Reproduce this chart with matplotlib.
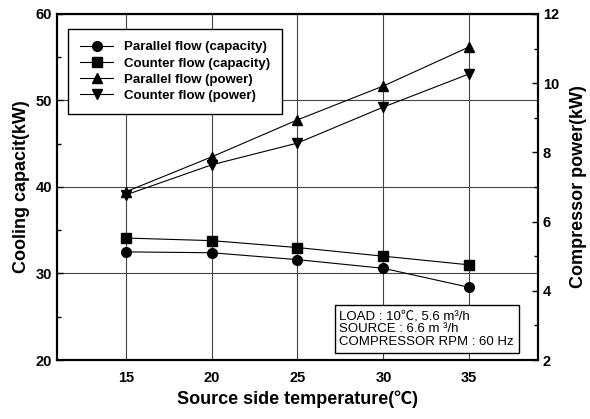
import numpy as np
import matplotlib.pyplot as plt
from matplotlib.ticker import MultipleLocator

plt.rcParams['font.family'] = ['Liberation Sans', 'DejaVu Sans']

# --- dane ---
temps = [15, 20, 25, 30, 35]
par_cap = [32.5, 32.4, 31.6, 30.6, 28.4]
cnt_cap = [34.1, 33.8, 33.0, 32.0, 31.0]
par_pow = [6.86, 7.87, 8.94, 9.92, 11.05]
cnt_pow = [6.77, 7.64, 8.27, 9.31, 10.27]

fig = plt.figure(figsize=(5.9, 4.19), dpi=100)
ax = fig.add_axes([57 / 590, 1 - 360 / 419, 481 / 590, 346 / 419])
ax2 = ax.twinx()

kw = dict(color='black', lw=0.8, ms=7)
l1, = ax.plot(temps, par_cap, marker='o', label='Parallel flow (capacity)', **kw)
l2, = ax.plot(temps, cnt_cap, marker='s', label='Counter flow (capacity)', **kw)
l3, = ax2.plot(temps, par_pow, marker='^', label='Parallel flow (power)', **kw)
l4, = ax2.plot(temps, cnt_pow, marker='v', label='Counter flow (power)', **kw)

ax.set_xlim(11, 39)
ax.set_ylim(20, 60)
ax2.set_ylim(2, 12)
ax.set_xticks(temps)
ax.yaxis.set_major_locator(MultipleLocator(10))
ax.yaxis.set_minor_locator(MultipleLocator(5))
ax2.yaxis.set_major_locator(MultipleLocator(2))
ax2.yaxis.set_minor_locator(MultipleLocator(1))

ax.grid(True, which='major', color='#444444', lw=0.8)
ax.set_axisbelow(True)

for a in (ax, ax2):
    a.tick_params(which='both', direction='in', labelsize=10.5)
    a.tick_params(which='major', length=4, width=1)
    a.tick_params(which='minor', length=3, width=1)
    for lab in a.get_yticklabels() + a.get_xticklabels():
        lab.set_fontweight('bold')
    for s in a.spines.values():
        s.set_linewidth(1.5)
ax.tick_params(axis='x', length=0, pad=8)

ax.set_xlabel('Source side temperature(\u2103)', fontsize=13, fontweight='bold',
              family=['Liberation Sans', 'Noto Sans CJK JP'])
ax.set_ylabel('Cooling capacit(kW)', fontsize=13, fontweight='bold')
ax2.set_ylabel('Compressor power(kW)', fontsize=13, fontweight='bold', labelpad=8)

leg = ax.legend(handles=[l1, l2, l3, l4], loc='upper left', bbox_to_anchor=(0.01, 0.975),
                fancybox=False, edgecolor='black', framealpha=1,
                prop={'weight': 'bold', 'size': 9.5}, handlelength=2.5,
                borderpad=0.9, labelspacing=0.3)
leg.get_frame().set_linewidth(1.0)
leg.set_zorder(10)

ax2.text(0.587, 0.035,
         'LOAD : 10\u2103, 5.6 m\u00b3/h\nSOURCE : 6.6 m \u00b3/h\nCOMPRESSOR RPM : 60 Hz',
         transform=ax.transAxes, fontsize=9.5, va='bottom', ha='left', linespacing=1.1,
         family=['Liberation Sans', 'Noto Sans CJK JP'],
         bbox=dict(boxstyle='square,pad=0.35', fc='white', ec='black', lw=1.0))

fig.savefig('out.png', dpi=100)
